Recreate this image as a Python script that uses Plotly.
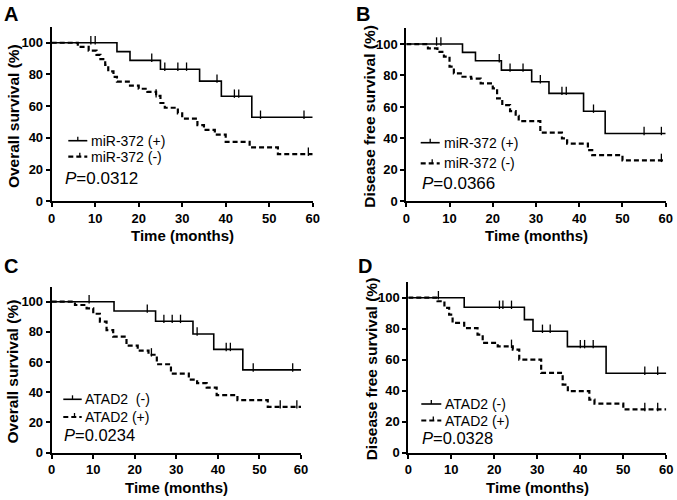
import numpy as np
import plotly.graph_objects as go

T_MAX = 60

# ---------------- Panel A : Overall survival, miR-372 ----------------
a_pos_t = [0, 15, 18, 25, 34, 39, 46]
a_pos_s = [100, 94.4, 88.9, 83.3, 75.8, 66.3, 53.0]
a_pos_c = [9, 10, 23, 26, 29, 31, 38, 42, 43, 48, 58]
a_neg_t = [0, 6, 8.5, 10.3, 11.2, 12.3, 13, 14.2, 15, 18, 20, 22, 24, 25, 26, 29, 30, 33.5, 35, 37.5, 40, 45.5, 52]
a_neg_s = [100, 97.4, 95, 92.3, 89.7, 86, 82, 78.5, 75.5, 73, 71, 69, 66.5, 62, 59, 55.5, 52.2, 48, 45, 42, 37.5, 34, 29.7]
a_neg_c = [24, 59]

# ---------------- Panel B : Disease free survival, miR-372 ----------------
b_pos_t = [0, 13, 16, 22, 29, 33, 41, 46]
b_pos_s = [100, 94.7, 89.4, 83.4, 76.0, 68.6, 57.3, 43.1]
b_pos_c = [7, 8, 21.5, 24, 27, 31, 36, 37, 43.3, 55, 59]
b_neg_t = [0, 5, 7.2, 8.7, 10, 11, 13, 15, 17.2, 20, 21, 22.2, 24, 25.3, 26, 31, 36, 37.2, 42, 43, 50]
b_neg_s = [100, 97.2, 95, 92, 85.6, 81.3, 79.2, 78, 75, 71.8, 65.4, 61.1, 57.3, 54.4, 51, 43.7, 40, 36.7, 32.5, 29.3, 26]
b_neg_c = [59]

# ---------------- Panel C : Overall survival, ATAD2 ----------------
c_neg_t = [0, 15, 25, 34, 39, 46]
c_neg_s = [100, 93.8, 87.0, 78.6, 68.4, 54.8]
c_neg_c = [9, 23, 27, 29, 31, 35, 42, 43, 48.5, 58]
c_pos_t = [0, 5.6, 8.4, 10, 11.6, 13.2, 14.8, 18, 20.7, 23.3, 25.3, 28.7, 33, 35, 37.3, 39.7, 44.7, 52]
c_pos_s = [100, 97.8, 95.6, 92, 86.8, 81.2, 76.8, 70.8, 67.5, 64.8, 58.5, 52.3, 48.3, 46, 43, 38, 34.7, 30.3]
c_pos_c = [24, 55, 59]

# ---------------- Panel D : Disease free survival, ATAD2 ----------------
d_neg_t = [0, 13, 27, 29, 37, 46]
d_neg_s = [100, 93.8, 85.8, 78.3, 68.4, 51.2]
d_neg_c = [7, 21.2, 22, 24, 31.2, 33, 40, 41, 43, 55, 58]
d_pos_t = [0, 6.8, 8.4, 9.5, 10.3, 13, 16.1, 17.3, 20.8, 24.3, 25.8, 30.9, 35.9, 37.1, 42.1, 43.3, 50]
d_pos_s = [100, 97.7, 93.4, 89, 83.7, 80.4, 76.1, 70.8, 68.6, 66.5, 60, 51.4, 43.9, 39.6, 34.2, 31.6, 27.8]
d_pos_c = [24, 55, 58]

panel_letters = ["A", "B", "C", "D"]
y_titles = ["Overall survival (%)", "Disease free survival (%)",
            "Overall survival (%)", "Disease free survival (%)"]
x_title = "Time (months)"
p_values = ["0.0312", "0.0366", "0.0234", "0.0328"]
labels_solid = ["miR-372 (+)", "miR-372 (+)", "ATAD2  (-)", "ATAD2 (-)"]
labels_dash = ["miR-372 (-)", "miR-372 (-)", "ATAD2 (+)", "ATAD2 (+)"]
x_ticks = [0, 10, 20, 30, 40, 50, 60]
y_ticks = [0, 20, 40, 60, 80, 100]

panels = [
    (a_pos_t, a_pos_s, a_pos_c, a_neg_t, a_neg_s, a_neg_c),
    (b_pos_t, b_pos_s, b_pos_c, b_neg_t, b_neg_s, b_neg_c),
    (c_neg_t, c_neg_s, c_neg_c, c_pos_t, c_pos_s, c_pos_c),
    (d_neg_t, d_neg_s, d_neg_c, d_pos_t, d_pos_s, d_pos_c),
]

W, H = 677, 500
# plot area pixel boxes: x at 0, x at 60, y px at 0, y px at 110
boxes = [
    (51.7, 312.7, 201.3, 26.9),
    (406.3, 665.7, 201.3, 28.3),
    (51.7, 301.0, 452.5, 286.6),
    (408.3, 666.3, 452.5, 282.2),
]
# legend: sample x0, sample x1, text x, solid row y, dashed row y
legend_geo = [
    (68.3, 87.3, 89.3, 140.7, 156.7),
    (420.7, 439.7, 442.0, 142.7, 163.3),
    (63.3, 81.7, 83.3, 399.3, 417.0),
    (421.3, 441.3, 443.0, 404.0, 420.5),
]
p_pos = [(63.3, 178.3), (419.7, 183.3), (62.3, 435.0), (419.7, 438.0)]
p_size = [17, 17, 16.5, 16.5]
letter_pos = [(11, 14), (363, 14), (11, 266), (365, 266)]
ytitle_x = [13, 370, 13, 371]
xtitle_y = [235, 235, 487.5, 487.5]

FONT = "Liberation Sans, Arial, sans-serif"


def step_level(times, surv, t):
    i = np.searchsorted(np.asarray(times), t, side="right") - 1
    return np.asarray(surv)[i]


def px_x(v):
    return v / W


def px_y(v):
    return 1 - v / H


fig = go.Figure()
layout_upd = {}
annotations = []
shapes = []

for k, (st, ss, sc, dt, ds, dc) in enumerate(panels):
    n = "" if k == 0 else str(k + 1)
    xa, ya = "x" + n, "y" + n
    # solid curve
    fig.add_trace(go.Scatter(
        x=list(st) + [T_MAX], y=list(ss) + [ss[-1]], mode="lines",
        line=dict(color="black", width=1.6, shape="hv"),
        name=labels_solid[k], xaxis=xa, yaxis=ya, showlegend=False, cliponaxis=False))
    # dashed curve
    fig.add_trace(go.Scatter(
        x=list(dt) + [T_MAX], y=list(ds) + [ds[-1]], mode="lines",
        line=dict(color="black", width=2.2, shape="hv", dash="5px,3px"),
        name=labels_dash[k], xaxis=xa, yaxis=ya, showlegend=False, cliponaxis=False))
    # censor marks
    for times, surv, cens in ((st, ss, sc), (dt, ds, dc)):
        cy = [float(step_level(times, surv, c)) + 1.6 for c in cens]
        fig.add_trace(go.Scatter(
            x=cens, y=cy, mode="markers", showlegend=False,
            marker=dict(symbol="line-ns", size=6, line=dict(color="black", width=1.3)),
            xaxis=xa, yaxis=ya, cliponaxis=False, hoverinfo="skip"))

    x0p, x60p, y0p, ytp = boxes[k]
    axis_common = dict(showline=True, linewidth=2, linecolor="black", ticks="outside",
                       ticklen=4, tickwidth=2, tickcolor="black", showgrid=False,
                       zeroline=False, automargin=False,
                       tickfont=dict(family=FONT, size=13, color="black", weight="bold"))
    layout_upd["xaxis" + n] = dict(axis_common, domain=[px_x(x0p), px_x(x60p)], range=[0, 60],
                                   tickvals=x_ticks, anchor=ya)
    layout_upd["yaxis" + n] = dict(axis_common, domain=[px_y(y0p), px_y(ytp)], range=[0, 110],
                                   tickvals=y_ticks, anchor=xa)
    # axis titles
    annotations.append(dict(text=x_title, x=px_x((x0p + x60p) / 2), y=px_y(xtitle_y[k]),
                            xref="paper", yref="paper", xanchor="center", yanchor="middle",
                            showarrow=False,
                            font=dict(family=FONT, size=15, color="black", weight="bold")))
    annotations.append(dict(text=y_titles[k], x=px_x(ytitle_x[k]), y=px_y((y0p + ytp) / 2 + 2),
                            xref="paper", yref="paper", xanchor="center", yanchor="middle",
                            textangle=-90, showarrow=False,
                            font=dict(family=FONT, size=15.5, color="black", weight="bold")))
    # legend (samples + labels)
    sx0, sx1, tx, ry1, ry2 = legend_geo[k]
    mid = (sx0 + sx1) / 2
    shapes.append(dict(type="line", xref="paper", yref="paper", x0=px_x(sx0), x1=px_x(sx1),
                       y0=px_y(ry1), y1=px_y(ry1), line=dict(color="black", width=1.6)))
    shapes.append(dict(type="line", xref="paper", yref="paper", x0=px_x(mid), x1=px_x(mid),
                       y0=px_y(ry1), y1=px_y(ry1 - 4), line=dict(color="black", width=1.3)))
    shapes.append(dict(type="line", xref="paper", yref="paper", x0=px_x(sx0), x1=px_x(sx1),
                       y0=px_y(ry2), y1=px_y(ry2), line=dict(color="black", width=2.2, dash="5px,3px")))
    shapes.append(dict(type="line", xref="paper", yref="paper", x0=px_x(mid + 2), x1=px_x(mid + 2),
                       y0=px_y(ry2), y1=px_y(ry2 - 4), line=dict(color="black", width=1.3)))
    for lab, ry in ((labels_solid[k], ry1), (labels_dash[k], ry2)):
        annotations.append(dict(text=lab, x=px_x(tx), y=px_y(ry), xref="paper", yref="paper",
                                xanchor="left", yanchor="middle", showarrow=False,
                                font=dict(family=FONT, size=14, color="black")))
    px, py = p_pos[k]
    annotations.append(dict(text="<i>P</i>=" + p_values[k], x=px_x(px), y=px_y(py), xref="paper",
                            yref="paper", xanchor="left", yanchor="middle", showarrow=False,
                            font=dict(family=FONT, size=p_size[k], color="black")))
    lx2, ly2 = letter_pos[k]
    annotations.append(dict(text=panel_letters[k], x=px_x(lx2), y=px_y(ly2), xref="paper", yref="paper",
                            xanchor="center", yanchor="middle", showarrow=False,
                            font=dict(family=FONT, size=20, color="black", weight="bold")))

fig.update_layout(
    width=W, height=H, margin=dict(l=0, r=0, t=0, b=0),
    paper_bgcolor="white", plot_bgcolor="white", showlegend=False,
    annotations=annotations, shapes=shapes, **layout_upd)

fig.write_html("out.html", config={"displayModeBar": False},
               post_script="document.body.style.margin='0px';document.body.style.padding='0px';")
